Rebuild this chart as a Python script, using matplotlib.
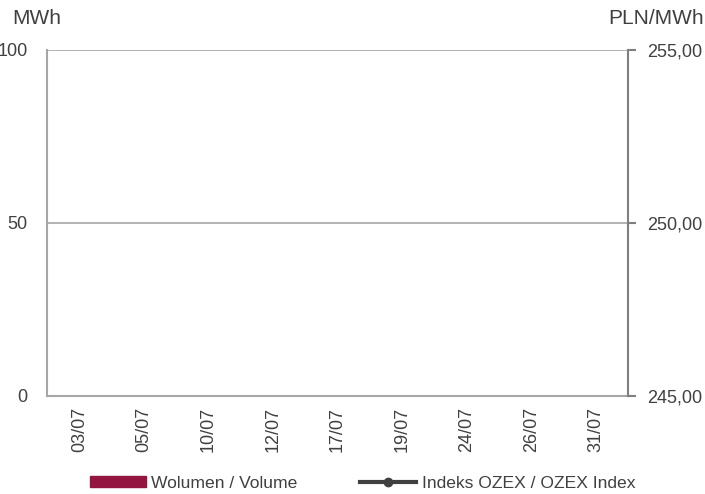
import numpy as np
import matplotlib
matplotlib.use("Agg")
import matplotlib.pyplot as plt
from matplotlib.patches import Patch
from matplotlib.lines import Line2D

plt.rcParams['font.family'] = ['Liberation Sans', 'DejaVu Sans']

# dane
dni = ["03/07", "05/07", "10/07", "12/07", "17/07", "19/07", "24/07", "26/07", "31/07"]
wolumen = [0, 0, 0, 0, 0, 0, 0, 0, 0]
indeks = [np.nan] * 9
lewe_ticki = [0, 50, 100]
prawe_ticki = [245.0, 250.0, 255.0]

szary = "#A6A6A6"
tekst = "#404040"
bordo = "#941540"

fig = plt.figure(figsize=(7.05, 4.94), dpi=100)
ax = fig.add_axes([0.0667, 0.1984, 0.8241, 0.7004])
ax2 = ax.twinx()

x = np.arange(len(dni))
ax.bar(x, wolumen, width=0.6, color=bordo)
ax2.plot(x, indeks, color=tekst, marker="o", lw=3)

ax.set_xlim(-0.5, len(dni) - 0.5)
ax.set_ylim(0, 100)
ax.set_yticks(lewe_ticki)
ax.set_yticklabels([str(v) for v in lewe_ticki])
ax.grid(axis="y", color=szary, lw=1.2)
ax.set_axisbelow(True)
ax.set_xticks(x)
ax.set_xticklabels(dni, rotation=90)

ax2.set_ylim(245, 255)
ax2.set_yticks(prawe_ticki)
ax2.set_yticklabels([("%.2f" % v).replace(".", ",") for v in prawe_ticki])

for a in (ax, ax2):
    for s in a.spines.values():
        s.set_visible(False)
ax.spines["left"].set_visible(True)
ax.spines["left"].set_color(szary)
ax.spines["left"].set_linewidth(1.5)
ax.spines["bottom"].set_visible(True)
ax.spines["bottom"].set_color(szary)
ax.spines["bottom"].set_linewidth(1.5)
ax2.spines["right"].set_visible(True)
ax2.spines["right"].set_color("#7F7F7F")
ax2.spines["right"].set_linewidth(1.5)

ax.tick_params(axis="y", length=0, pad=14, labelsize=13, labelcolor=tekst)
ax.tick_params(axis="x", length=0, pad=8, labelsize=13, labelcolor=tekst)
ax2.tick_params(axis="y", length=6, width=1.5, color="#7F7F7F", pad=8, labelsize=13, labelcolor=tekst)

fig.text(0.018, 0.963, "MWh", fontsize=15, color=tekst, va="center", ha="left")
fig.text(0.998, 0.963, "PLN/MWh", fontsize=15, color=tekst, va="center", ha="right")

uchwyty = [Patch(color=bordo), Line2D([0], [0], color=tekst, lw=3, marker="o", markersize=6)]
fig.legend(uchwyty, ["Wolumen / Volume", "Indeks OZEX / OZEX Index"], loc="center",
           bbox_to_anchor=(0.514, 0.022), ncol=2, frameon=False, fontsize=12.6,
           handlelength=3.2, handleheight=0.55, handletextpad=0.3, columnspacing=3.6,
           labelcolor=tekst)

fig.savefig("out.png", dpi=100)
